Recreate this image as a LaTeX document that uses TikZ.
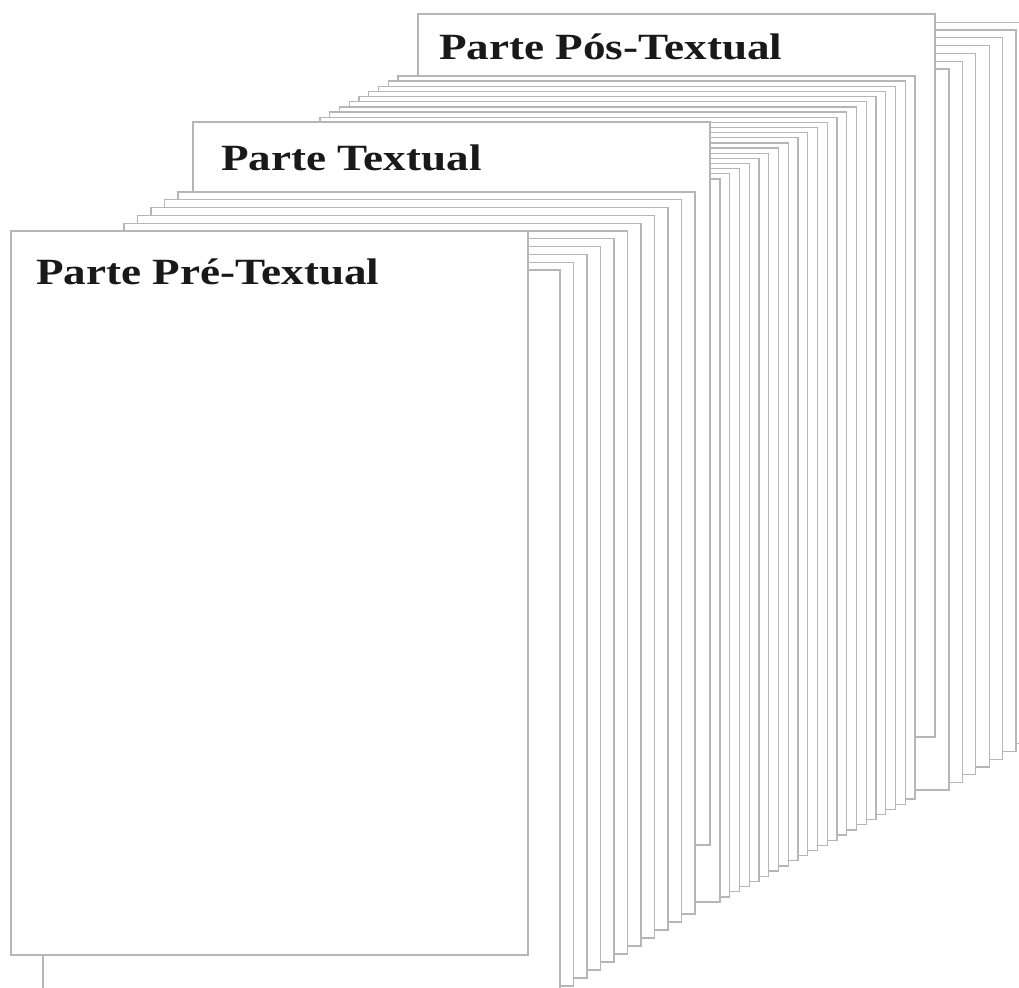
\documentclass[tikz,border=0pt]{standalone}
\usepackage{fontspec}
\usepackage{graphicx}
\setmainfont{Liberation Serif}
\definecolor{pagegray}{RGB}{182,182,182}
\definecolor{titleblack}{RGB}{25,25,25}
\tikzset{
  sheet/.style={fill=white, draw=pagegray, line width=1.3pt},
  titletext/.style={inner sep=0pt, anchor=base west, text=titleblack,
    font=\bfseries\fontsize{37}{40}\selectfont},
}
% one sheet of paper: left, top, right, bottom
\newcommand\papersheet[4]{\filldraw[sheet] (#1,#2) rectangle (#3,#4);}
\newcommand\widetitle[1]{\scalebox{1.22}[1]{#1}}
\begin{document}
\begin{tikzpicture}[x=1pt, y=-1pt]
  \clip (0,0) rectangle (1019,987);
  \fill[white] (0,0) rectangle (1019,987);

  % sheets behind the post-textual cover
  \foreach \j in {6,5,...,0} {
    \pgfmathsetmacro\r{949+13.4*\j}
    \pgfmathsetmacro\t{69-7.8*\j}
    \pgfmathsetmacro\b{790-7.7*\j}
    \papersheet{\r-517}{\t}{\r}{\b}
  }
  % post-textual cover
  \papersheet{418}{14}{935}{737}
  \node[titletext] (pos) at (439,60) {\widetitle{Parte Pós-Textual}};

  % sheets of the textual part
  \foreach \k in {20,19,...,0} {
    \pgfmathsetmacro\l{203+9.75*\k}
    \pgfmathsetmacro\t{179-5.15*\k}
    \papersheet{\l}{\t}{\l+517}{\t+723}
  }
  % textual cover
  \papersheet{193}{122}{710}{845}
  \node[titletext] (txt) at (221,171) {\widetitle{Parte Textual}};

  % sheets of the pre-textual part
  \foreach \k in {10,9,...,0} {
    \pgfmathsetmacro\l{43+13.5*\k}
    \pgfmathsetmacro\t{270-7.8*\k}
    \pgfmathsetmacro\b{994-8*\k}
    \papersheet{\l}{\t}{\l+517}{\b}
  }
  % pre-textual cover
  \papersheet{11}{231}{528}{955}
  \node[titletext] (pre) at (36,284) {\widetitle{Parte Pré-Textual}};
\end{tikzpicture}
\end{document}
